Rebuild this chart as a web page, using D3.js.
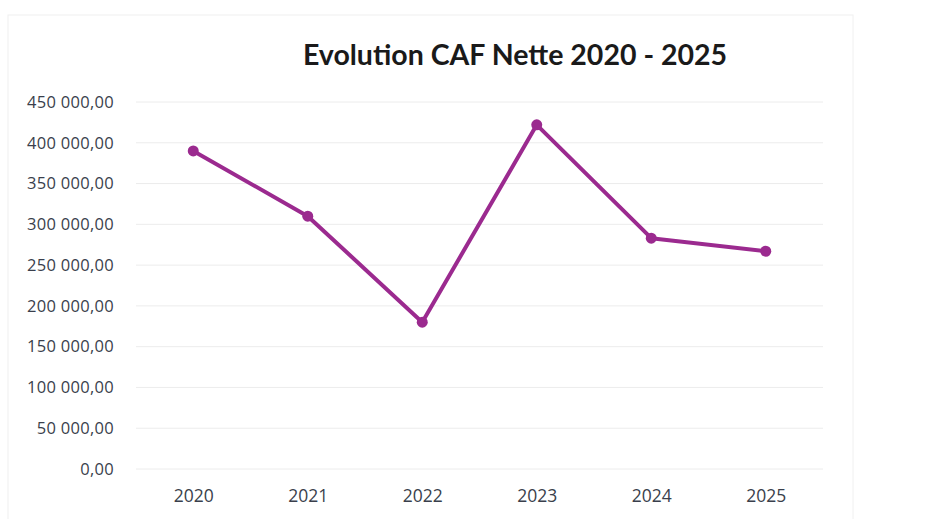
<!DOCTYPE html>
<html>
<head>
<meta charset="utf-8">
<script src="https://cdn.jsdelivr.net/npm/d3@7"></script>
<style>
  body { margin: 0; background: #fff; }
  svg { display: block; }
</style>
</head>
<body>
<div id="chart"></div>
<script>
// CAF nette par année
const years = ["2020", "2021", "2022", "2023", "2024", "2025"];
const cafNette = [390000, 310000, 180000, 422000, 283000, 267000];
const yTicks = [0, 50000, 100000, 150000, 200000, 250000, 300000, 350000, 400000, 450000];

const width = 940, height = 519;
const margin = { top: 102, right: 117, bottom: 50, left: 136 };

const svg = d3.select("#chart")
    .append("svg")
    .attr("width", width)
    .attr("height", height);

// faint chart-area frame
svg.append("rect")
    .attr("x", 8).attr("y", 15)
    .attr("width", 845).attr("height", 520)
    .attr("fill", "none")
    .attr("stroke", "#f0f0f0");

svg.append("text")
    .attr("x", 515)
    .attr("y", 65)
    .attr("text-anchor", "middle")
    .style("font-family", "Lato, 'Noto Sans', sans-serif")
    .style("font-weight", "bold")
    .style("font-size", "28.5px")
    .style("fill", "#1a1a1a")
    .text("Evolution CAF Nette 2020 - 2025");

const x = d3.scalePoint()
    .domain(years)
    .range([margin.left, width - margin.right])
    .padding(0.5);

const y = d3.scaleLinear()
    .domain([0, 450000])
    .range([height - margin.bottom, margin.top]);

const fmt = v => d3.format(",.2f")(v).replace(/,/g, " ").replace(".", ",");

// gridlines
svg.append("g")
    .selectAll("line")
    .data(yTicks)
    .enter()
    .append("line")
    .attr("x1", margin.left)
    .attr("x2", width - margin.right)
    .attr("y1", d => y(d))
    .attr("y2", d => y(d))
    .style("stroke", "#ececec")
    .style("stroke-width", 1);

// y axis labels
const yAxis = svg.append("g")
    .attr("transform", `translate(${margin.left - 22},0)`)
    .call(d3.axisLeft(y).tickValues(yTicks).tickFormat(fmt).tickSize(0).tickPadding(0));
yAxis.select(".domain").remove();
yAxis.selectAll("text")
    .style("font-family", "'Open Sans', 'Noto Sans', sans-serif")
    .style("font-size", "16.5px")
    .style("letter-spacing", "0.3px")
    .style("fill", "#3a3f4c");

// x axis labels
const xAxis = svg.append("g")
    .attr("transform", `translate(0,${height - margin.bottom + 21})`)
    .call(d3.axisBottom(x).tickSize(0).tickPadding(0));
xAxis.select(".domain").remove();
xAxis.selectAll("text")
    .style("font-family", "'Open Sans', 'Noto Sans', sans-serif")
    .style("font-size", "17.5px")
    .style("fill", "#3a3f4c");

const data = years.map((yr, i) => ({ year: yr, value: cafNette[i] }));

const line = d3.line()
    .x(d => x(d.year))
    .y(d => y(d.value));

svg.append("path")
    .datum(data)
    .attr("d", line)
    .style("fill", "none")
    .style("stroke", "#9b2a8f")
    .style("stroke-width", 4)
    .style("stroke-linejoin", "round");

svg.selectAll(".dot")
    .data(data)
    .enter()
    .append("circle")
    .classed("dot", true)
    .attr("cx", d => x(d.year))
    .attr("cy", d => y(d.value))
    .attr("r", 5.5)
    .style("fill", "#9b2a8f");
</script>
</body>
</html>
